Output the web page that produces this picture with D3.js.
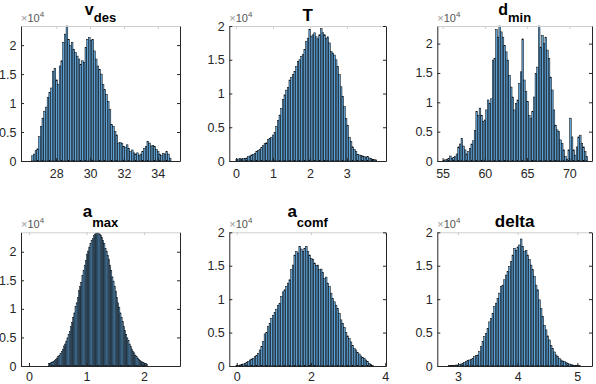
<!DOCTYPE html>
<html>
<head>
<meta charset="utf-8">
<script src="https://cdn.jsdelivr.net/npm/d3@7"></script>
<style>
  body { margin: 0; background: #fff; }
  svg { display: block; font-family: "Liberation Sans", Arial, sans-serif; }
  .tick text { font-size: 12.5px; fill: #262626; }
</style>
</head>
<body>
<svg id="fig" width="596" height="384"></svg>
<script>
// panel data (counts in thousands)
const titleMain = ["v", "T", "d", "a", "a", "delta"];
const titleSub = ["des", "", "min", "max", "comf", ""];
const xTicks = [[28, 30, 32, 34], [0, 1, 2, 3], [55, 60, 65, 70], [0, 1, 2], [0, 2, 4], [3, 4, 5]];
const xDomains = [[25.92, 35.31], [-0.18, 4.06], [54.37, 72.68], [-0.139, 2.626], [-0.2, 4.02], [2.653, 5.246]];
const yMax = [23300, 20000, 23000, 23400, 20000, 20000];
const yTicks = [0, 5000, 10000, 15000, 20000];
const binRanges = [[26.55, 34.78], [0, 3.81], [55.04, 72.17], [0.34, 2.06], [-0.02, 3.68], [2.844, 5.05]];

const vdesCounts = [0.9,1.2,1.8,2.1,4.2,6,7.4,8.6,9.3,11,
  11.8,12.6,15.5,16,14,13.2,16.4,17.3,20.5,21.9,
  23.3,21,19.9,20.5,19.3,18.7,18.1,17.6,16.7,17.3,
  17,19.6,21,21.3,20.8,21,19,17.6,16.4,15.8,
  15,13.2,12.3,11.5,10.3,8.9,6.3,6,5.1,4.5,
  3.1,3.2,3,2.5,2.4,2.8,2.2,1.6,1.9,1.4,
  1.2,1.4,1,1.2,1.6,2.2,2.5,3.4,3.1,2.6,
  2.7,2.5,2,1.6,1.2,1,1.3,1.2,1.6,1.2,0.5];
const tCounts = [0.25,0.3,0.35,0.3,0.35,0.4,0.45,0.65,0.75,0.9,
  1.0,1.15,1.4,1.55,1.75,2.0,2.3,2.6,2.7,3.2,
  3.35,3.45,3.85,4.2,5.1,6,6.8,7.8,9.1,9.8,
  10.5,10.9,12,12.4,12.8,13.3,14,14.75,15,15.5,
  15.75,16.5,17.7,18.2,19.5,18.5,18.7,19,18.4,18.1,
  18.7,19.6,19,18.7,18.2,18.4,17.5,16.2,16,15.7,
  15,14,12.8,11,9.6,8.1,6.3,5.3,3.5,2.9,
  2.1,1.7,1.4,1.0,0.9,0.85,0.75,0.65,0.55,0.65,
  0.45,0.35,0.25,0.2,0.15];
const dminCounts = [0.05,0.2,0.3,0.45,0.85,0.4,0.6,0.75,1.2,2.4,
  2.9,3.85,2.55,1.9,1.2,1.6,2.15,2.9,3.45,5.2,
  8.4,7.8,9,7.8,6.7,7,8.7,10.4,9.8,10.6,
  17.2,17.5,22.4,21.1,23,22,21.1,19.7,18.6,17.2,
  14.6,12.6,10.9,8.7,9.8,10.4,13.2,15.2,20.8,13.8,
  11.8,10.1,7.8,7.3,8.4,10.9,14.9,16,23,19.4,
  21.4,20,21.1,18.9,17.5,14.3,12.1,8.7,6.1,5.3,
  5,3.6,3,1.9,0.75,0.3,1.9,7.3,4.1,1.9,
  1,2.4,4.1,4.4,3,2.4,1.6,0.75];
const amaxCounts = [0.40,0.49,0.59,0.71,0.84,1.00,1.18,1.40,1.64,1.91,
  2.22,2.56,2.94,3.5,3.84,4.36,4.93,5.54,6.0,6.91,
  7.66,8.45,9.29,10.4,11.06,11.99,13.2,13.89,14.6,15.81,
  16.73,17.65,18.51,19.6,20.11,20.81,21.45,22.0,22.3,22.82,
  23.09,23.25,23.3,23.25,23.09,22.9,22.46,22.0,21.45,20.6,
  20.11,19.35,18.7,17.65,16.73,15.6,14.86,13.89,13.1,11.99,
  11.06,10.3,9.29,8.45,7.8,6.91,6.2,5.54,4.93,4.5,
  3.84,3.37,2.94,2.56,2.3,1.91,1.64,1.4,1.18,1.0,
  0.84,0.71,0.59,0.49,0.40,0.33];
const acomfCounts = [0.05,0.1,0.15,0.2,0.3,0.4,0.5,0.7,0.9,1.05,
  1.15,1.4,1.6,1.9,2.4,2.9,3.65,4.8,5.0,5.9,
  6.4,7.1,7.6,8,8.5,9.1,9.4,10.4,11.1,11.4,
  11.9,12.4,12.9,14.4,15.1,16.6,17.1,16.9,17.9,17.5,
  17.1,17.6,17.9,17.1,16.6,16.1,15.9,15.4,15.0,15.1,
  14.4,14.5,14,13.1,13.3,12.4,11.9,10.9,10.1,9.6,
  9.1,8.6,7.9,6.9,6.4,5.8,5,4.5,4.1,3.6,
  3.1,2.6,2.4,2.0,1.8,1.5,1.3,1.15,0.9,0.65,
  0.4,0.2,0.05];
const deltaCounts = [0.05,0.05,0.1,0.1,0.15,0.15,0.25,0.3,0.4,0.55,
  0.65,0.8,0.9,1.0,1.15,1.4,1.55,1.65,2.15,2.9,
  3.65,4.4,4.9,5.6,6.6,7.1,7.9,8.9,9.4,10.1,
  10.9,11.9,12.1,12.9,13.6,14.1,14.9,15.6,16.6,17.6,
  17.3,17.8,18.1,19,17.9,17.1,17.3,16.6,15.9,15.1,
  14.4,13.4,12.1,11.4,9.9,8.6,7.4,6.1,5.4,4.5,
  3.9,3.1,2.6,2.1,1.65,1.4,1.15,0.9,0.75,0.65,
  0.5,0.4,0.3,0.2,0.15,0.1,0.1,0.05,0.05];
const allCounts = [vdesCounts, tCounts, dminCounts, amaxCounts, acomfCounts, deltaCounts];

// layout
const rowTop = [26, 232.3];
const rowBottom = [161, 366];
const colLeft = [21, 229.3, 437.3];
const colRight = [180, 386, 592];
const mainLift = [10.8, 15.4];   // main-letter baseline above axes for subscripted titles
const subLift = [4.4, 5.8];      // subscript baseline above axes
const titleSize = [16, 17];
const xLabelPad = [8.5, 6.5];
const axisColor = "#262626";
const barFill = "#5fa2d6";

const svg = d3.select("#fig");

allCounts.forEach((counts, i) => {
    const row = Math.floor(i / 3), col = i % 3;
    const x0 = colLeft[col], x1 = colRight[col];
    const y0 = rowTop[row], y1 = rowBottom[row];

    const xScale = d3.scaleLinear().domain(xDomains[i]).range([x0, x1]);
    const yScale = d3.scaleLinear().domain([0, yMax[i]]).range([y1, y0]);

    const lo = binRanges[i][0], hi = binRanges[i][1];
    const bw = (hi - lo) / counts.length;
    const bins = counts.map((c, k) => ({ x: lo + k * bw, n: c * 1000 }));

    const g = svg.append("g");

    g.selectAll("rect")
        .data(bins)
        .join("rect")
        .attr("x", d => xScale(d.x))
        .attr("y", d => yScale(Math.min(d.n, yMax[i])))
        .attr("width", d => xScale(d.x + bw) - xScale(d.x))
        .attr("height", d => y1 - yScale(Math.min(d.n, yMax[i])))
        .attr("fill", barFill)
        .attr("stroke", "#000")
        .attr("stroke-width", 0.5);

    // box: top (light) and right
    g.append("g")
        .attr("transform", "translate(0," + y0 + ")")
        .call(d3.axisTop(xScale).tickValues(xTicks[i]).tickFormat("").tickSizeInner(-3).tickSizeOuter(0))
        .call(a => a.selectAll("path, line").attr("stroke", "#cfcfcf"));

    g.append("g")
        .attr("transform", "translate(" + x1 + ",0)")
        .call(d3.axisRight(yScale).tickValues(yTicks.filter(t => t <= yMax[i])).tickFormat("").tickSizeInner(-3).tickSizeOuter(0))
        .call(a => a.selectAll("path, line").attr("stroke", axisColor));

    g.append("g")
        .attr("transform", "translate(0," + y1 + ")")
        .call(d3.axisBottom(xScale).tickValues(xTicks[i]).tickFormat(d3.format("~g"))
            .tickSizeInner(-3).tickSizeOuter(0).tickPadding(xLabelPad[row]))
        .call(a => a.selectAll("path, line").attr("stroke", axisColor))
        .call(a => a.selectAll("text").attr("font-family", null).attr("font-size", null));

    g.append("g")
        .attr("transform", "translate(" + x0 + ",0)")
        .call(d3.axisLeft(yScale).tickValues(yTicks.filter(t => t <= yMax[i]))
            .tickFormat(d => d3.format("~g")(d / 10000)).tickSizeInner(-3).tickSizeOuter(0).tickPadding(4.5))
        .call(a => a.selectAll("path, line").attr("stroke", axisColor))
        .call(a => a.selectAll("text").attr("font-family", null).attr("font-size", null));

    // exponent label
    const ex = g.append("text")
        .attr("x", x0)
        .attr("y", y0 - 4)
        .attr("font-size", 11)
        .attr("fill", "#555");
    ex.append("tspan").attr("fill", "#999").text("×");
    ex.append("tspan").text("10");
    ex.append("tspan").attr("font-size", 8).attr("dy", -5).text("4");

    // title
    const cx = (x0 + x1) / 2;
    const hasSub = titleSub[i] !== "";
    const t = g.append("text")
        .attr("x", cx)
        .attr("y", y0 - (hasSub ? mainLift[row] : 5.5))
        .attr("text-anchor", "middle")
        .attr("font-weight", "bold")
        .attr("font-size", hasSub ? titleSize[row] : 17)
        .attr("fill", "#000");
    t.append("tspan").text(titleMain[i]);
    if (hasSub) {
        t.append("tspan").attr("font-size", 13).attr("dy", mainLift[row] - subLift[row]).text(titleSub[i]);
    }
});
</script>
</body>
</html>
